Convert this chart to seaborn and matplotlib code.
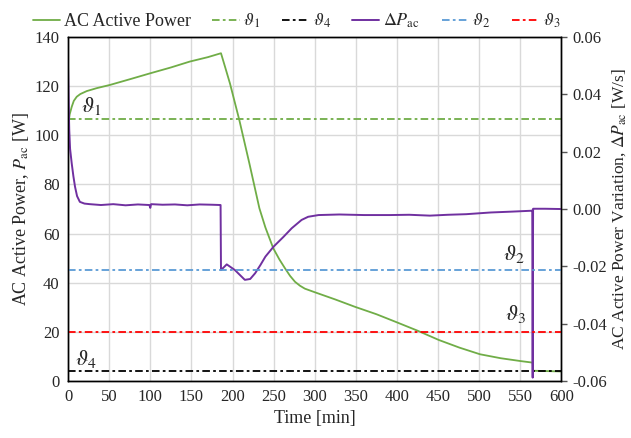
import matplotlib
matplotlib.use("Agg")
import matplotlib.pyplot as plt
import seaborn as sns
import pandas as pd
from matplotlib.ticker import FixedLocator, FormatStrFormatter

# ---------------- data ----------------
time_p = [0, 2, 4.5, 7, 10.6, 15, 22.8, 35, 51, 75, 99.6, 125, 148, 170, 186,
          191, 197, 208.3, 220.5, 232.7, 240, 249.6, 257, 263.8, 270, 276,
          282, 288, 300.4, 325, 349, 375, 397.6, 425, 451, 476, 501, 526,
          551, 565, 565.5, 600]
power = [103.5, 108.5, 111.6, 114, 115.7, 116.8, 118, 119.2, 120.5, 122.8,
         125.2, 127.6, 130, 131.8, 133.4, 127.8, 121, 106.2, 88.6, 70.3, 62.5,
         54, 49.5, 45.9, 42.8, 40.4, 38.8, 37.6, 36.1, 33.2, 30.2, 27.2, 24.2,
         20.5, 16.7, 13.6, 10.9, 9.3, 8.1, 7.5, 4.2, 3.9]

time_d = [0, 0.3, 1, 1.5, 2.5, 4.5, 6.5, 8.5, 11, 14.4, 20, 26.5, 40, 55, 70,
          85, 99, 100, 101, 115, 130, 145, 160, 175, 185.5, 186, 193, 197,
          203, 209, 215, 221.5, 227.5, 234, 240, 250, 262, 272, 284, 292,
          304.6, 330, 360, 391, 415, 440, 462, 484, 514, 540, 563, 564.5,
          565, 565.5, 566, 580, 600]
dP = [0.0496, 0.045, 0.034, 0.0275, 0.021, 0.0159, 0.0115, 0.0078, 0.0045,
      0.0025, 0.0019, 0.0017, 0.0014, 0.0017, 0.0013, 0.0016, 0.0014, 0.0004,
      0.0017, 0.0015, 0.0016, 0.0013, 0.0016, 0.0015, 0.0014, -0.0213,
      -0.0193, -0.0201, -0.0213, -0.023, -0.0247, -0.0244, -0.0224, -0.0195,
      -0.0166, -0.0131, -0.0097, -0.0067, -0.0038, -0.0027, -0.0021, -0.0019,
      -0.0021, -0.0021, -0.0020, -0.0023, -0.0020, -0.0018, -0.0012, -0.0009,
      -0.0006, -0.0005, -0.0588, 0.0001, 0.0001, 0.0001, 0.0]

theta1 = 106.5   # left axis [W]
theta4 = 4.1     # left axis [W]
theta2 = -0.0213 # right axis [W/s]
theta3 = -0.0430 # right axis [W/s]

x_ticks = list(range(0, 601, 50))
y_left_ticks = list(range(0, 141, 20))
y_right_ticks = [-0.06, -0.04, -0.02, 0.00, 0.02, 0.04, 0.06]

# ---------------- style ----------------
sns.set_theme(style="white")
plt.rcParams["font.family"] = ["Liberation Serif", "DejaVu Serif"]
plt.rcParams["mathtext.fontset"] = "stix"
plt.rcParams["axes.unicode_minus"] = False

GREEN = "#70AD47"
PURPLE = "#7030A0"
BLUE = "#5B9BD5"
RED = "#FF0000"
DASHDOT = (4.2, 1.8, 1.5, 1.8)

fig = plt.figure(figsize=(6.31, 4.38), dpi=100)
ax = fig.add_axes([0.1078, 0.130, 0.782, 0.7855])
ax2 = ax.twinx()

df_p = pd.DataFrame({"t": time_p, "P": power})
df_d = pd.DataFrame({"t": time_d, "dP": dP})

ax.set_axisbelow(True)
ax.grid(True, color="#d9d9d9", lw=1.0)

sns.lineplot(data=df_p, x="t", y="P", ax=ax, color=GREEN, lw=1.3,
             label="AC Active Power", estimator=None, sort=False)
ax.axhline(theta1, color=GREEN, lw=1.3, dashes=DASHDOT, label=r"$\vartheta_1$")
ax.axhline(theta4, color="black", lw=1.3, dashes=DASHDOT, label=r"$\vartheta_4$")

sns.lineplot(data=df_d, x="t", y="dP", ax=ax2, color=PURPLE, lw=1.4,
             label=r"$\Delta P_{\mathrm{ac}}$", estimator=None, sort=False)
ax2.axhline(theta2, color=BLUE, lw=1.3, dashes=DASHDOT, label=r"$\vartheta_2$")
ax2.axhline(theta3, color=RED, lw=1.3, dashes=DASHDOT, label=r"$\vartheta_3$")

ax.set_xlim(0, 600)
ax.set_ylim(0, 140)
ax2.set_ylim(-0.06, 0.06)
ax.xaxis.set_major_locator(FixedLocator(x_ticks))
ax.yaxis.set_major_locator(FixedLocator(y_left_ticks))
ax2.yaxis.set_major_locator(FixedLocator(y_right_ticks))
ax2.yaxis.set_major_formatter(FormatStrFormatter("%.2f"))

ax.tick_params(axis="both", labelsize=12, length=0, pad=6)
ax2.tick_params(axis="y", labelsize=12, length=4, width=1, direction="out",
                color="#555555", pad=4, right=True)

ax.set_xlabel("Time [min]", fontsize=13, labelpad=3)
ax.set_ylabel(r"AC Active Power, $P_{\mathrm{ac}}$ [W]", fontsize=13, labelpad=3)
ax2.set_ylabel(r"AC Active Power Variation, $\Delta P_{\mathrm{ac}}$ [W/s]",
               fontsize=12.5, rotation=90, labelpad=2)

for a in (ax, ax2):
    for s in a.spines.values():
        s.set_color("black")
        s.set_linewidth(1.0)

ax.text(16, 107.3, r"$\vartheta_1$", fontsize=16, va="bottom")
ax.text(8.5, 4.6, r"$\vartheta_4$", fontsize=16, va="bottom")
ax.text(529, 47.2, r"$\vartheta_2$", fontsize=16, va="bottom")
ax.text(531, 22.8, r"$\vartheta_3$", fontsize=16, va="bottom")

h1, l1 = ax.get_legend_handles_labels()
h2, l2 = ax2.get_legend_handles_labels()
for a in (ax, ax2):
    if a.get_legend() is not None:
        a.get_legend().remove()
fig.legend(h1 + h2, l1 + l2, loc="upper center", bbox_to_anchor=(0.47, 1.01),
           ncol=6, frameon=False, fontsize=13, handlelength=1.5,
           handletextpad=0.2, columnspacing=1.2)

fig.savefig("out.png", dpi=100)
